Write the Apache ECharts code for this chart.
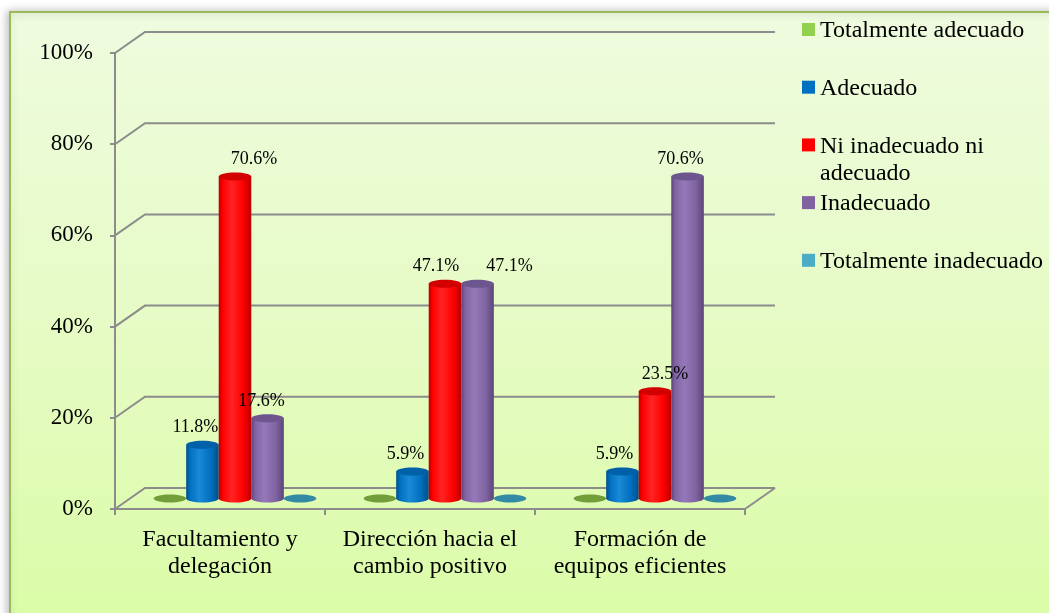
<!DOCTYPE html>
<html>
<head>
<meta charset="utf-8">
<script src="https://cdn.jsdelivr.net/npm/echarts@6/dist/echarts.min.js"></script>
<style>
  html, body { margin: 0; padding: 0; background: #ffffff; }
  #chart { width: 1049px; height: 613px; }
</style>
</head>
<body>
<div id="chart"></div>
<script>
// Categories (axis labels) and series values, in percent
const categories = ['Facultamiento y\ndelegación', 'Dirección hacia el\ncambio positivo', 'Formación de\nequipos eficientes'];
const seriesNames = ['Totalmente adecuado', 'Adecuado', 'Ni inadecuado ni\nadecuado', 'Inadecuado', 'Totalmente inadecuado'];
const totalmenteAdecuado = [0, 0, 0];
const adecuado = [11.8, 5.9, 5.9];
const niInadecuadoNiAdecuado = [70.6, 47.1, 23.5];
const inadecuado = [17.6, 47.1, 70.6];
const totalmenteInadecuado = [0, 0, 0];
const yTicks = [0, 20, 40, 60, 80, 100];

const seriesValues = [totalmenteAdecuado, adecuado, niInadecuadoNiAdecuado, inadecuado, totalmenteInadecuado];

// Colours and cylinder shading per series
const shades = [
  { base: '#92d050', edge: '#6f9c38', light: '#a8dc6c', top: '#7aa83f', flat: '#729e3a' },
  { base: '#0070c0', edge: '#004f8a', light: '#1a8ad6', top: '#0061a8', flat: '#0061a8' },
  { base: '#ff0000', edge: '#b80000', light: '#ff2424', top: '#d20000', flat: '#d20000' },
  { base: '#8064a2', edge: '#5a4578', light: '#9478b8', top: '#6d558d', flat: '#6d558d' },
  { base: '#4bacc6', edge: '#2f7f96', light: '#62bcd4', top: '#3a93ad', flat: '#338aa4' }
];

// Small horizontal nudges for the value labels (series x category), in px
const labelNudgeX = [
  [0, 0, 0],
  [-7, -7, -8],
  [19, -9, 10],
  [-6, 32, -7],
  [0, 0, 0]
];

// Perspective depth of the box
const DEPTH_X = 30;
const DEPTH_Y = 21;
const GRID_COLOR = '#8c8c8c';
const SERIF = '"Liberation Serif", "Times New Roman", serif';

function renderWalls(params, api) {
  const cs = params.coordSys;
  const x0 = cs.x;
  const x1 = cs.x + cs.width;
  const children = yTicks.map(function (t) {
    const y = api.coord([0, t])[1];
    return {
      type: 'polyline',
      shape: { points: [[x0, y], [x0 + DEPTH_X, y - DEPTH_Y], [x1 + DEPTH_X, y - DEPTH_Y]] },
      style: { stroke: GRID_COLOR, lineWidth: 2, fill: null }
    };
  });
  const y0 = api.coord([0, 0])[1];
  children.push({
    type: 'line',
    shape: { x1: x1, y1: y0, x2: x1 + DEPTH_X, y2: y0 - DEPTH_Y },
    style: { stroke: GRID_COLOR, lineWidth: 2 }
  });
  return { type: 'group', children: children };
}

// Position of a cylinder for series sIdx in the current data item
function cylinderGeom(sIdx, api) {
  const cat = api.value(0);
  const v = api.value(1);
  const band = api.size([1, 0])[0];
  const w = band * 0.155;
  const top = api.coord([cat, v]);
  const base = api.coord([cat, 0]);
  return {
    cat: cat,
    v: v,
    w: w,
    cx: top[0] + (sIdx - 2) * w + DEPTH_X / 2,
    topY: top[1] - DEPTH_Y / 2,
    baseY: base[1] - DEPTH_Y / 2
  };
}

function cylinderRenderer(sIdx) {
  return function (params, api) {
    const g = cylinderGeom(sIdx, api);
    const rx = g.w / 2;
    const ry = 4;
    const sh = shades[sIdx];
    const children = [];
    if (g.v > 0) {
      const body = new echarts.graphic.LinearGradient(0, 0, 1, 0, [
        { offset: 0, color: sh.edge },
        { offset: 0.12, color: sh.base },
        { offset: 0.4, color: sh.light },
        { offset: 0.75, color: sh.base },
        { offset: 1, color: sh.edge }
      ]);
      children.push({ type: 'rect', shape: { x: g.cx - rx, y: g.topY, width: g.w, height: g.baseY - g.topY }, style: { fill: body } });
      children.push({ type: 'ellipse', shape: { cx: g.cx, cy: g.baseY, rx: rx, ry: ry }, style: { fill: body } });
      children.push({ type: 'ellipse', shape: { cx: g.cx, cy: g.topY, rx: rx, ry: ry }, style: { fill: sh.top } });
    } else {
      children.push({ type: 'ellipse', shape: { cx: g.cx, cy: g.baseY, rx: rx, ry: ry }, style: { fill: sh.flat } });
    }
    return { type: 'group', children: children };
  };
}

function labelRenderer(sIdx) {
  return function (params, api) {
    const g = cylinderGeom(sIdx, api);
    if (!(g.v > 0)) return null;
    return {
      type: 'text',
      x: g.cx + labelNudgeX[sIdx][g.cat],
      y: g.topY - 17,
      style: {
        text: g.v.toFixed(1) + '%',
        font: '18px ' + SERIF,
        fill: '#000000',
        align: 'center',
        verticalAlign: 'middle'
      }
    };
  };
}

const series = [{
  type: 'custom',
  name: 'walls',
  renderItem: renderWalls,
  data: [[0, 0]],
  z: 1,
  silent: true
}];
seriesValues.forEach(function (vals, sIdx) {
  const data = vals.map(function (v, i) { return [i, v]; });
  series.push({
    type: 'custom',
    name: seriesNames[sIdx],
    renderItem: cylinderRenderer(sIdx),
    encode: { x: 0, y: 1 },
    data: data,
    z: 5 + sIdx
  });
  series.push({
    type: 'custom',
    name: seriesNames[sIdx] + ' (labels)',
    renderItem: labelRenderer(sIdx),
    encode: { x: 0, y: 1 },
    data: data,
    z: 20,
    silent: true
  });
});

// Legend drawn as colour squares with text on the right
const legendTop = 29.5;
const legendStep = 57.7;
const legendLine = 27;
const legendElements = [];
seriesNames.forEach(function (name, i) {
  const cy = legendTop + i * legendStep;
  legendElements.push({
    type: 'rect',
    shape: { x: 802, y: cy - 6.5, width: 13, height: 13 },
    style: { fill: shades[i].base }
  });
  legendElements.push({
    type: 'text',
    x: 820,
    y: cy - legendLine / 2 + 1.5,
    style: {
      text: name,
      font: '24px ' + SERIF,
      fill: '#000000',
      lineHeight: legendLine,
      verticalAlign: 'top'
    }
  });
});

const chart = echarts.init(document.getElementById('chart'), null, { renderer: 'canvas' });
chart.setOption({
  animation: false,
  backgroundColor: '#ffffff',
  textStyle: { fontFamily: SERIF },
  graphic: [{
    type: 'rect',
    z: -10,
    shape: { x: 10, y: 12, width: 1060, height: 620 },
    style: {
      fill: new echarts.graphic.LinearGradient(0, 0, 0, 1, [
        { offset: 0, color: '#effbdf' },
        { offset: 0.5, color: '#e6fbc5' },
        { offset: 1, color: '#dafca6' }
      ]),
      stroke: '#9bbb59',
      lineWidth: 2,
      shadowBlur: 8,
      shadowOffsetX: -2,
      shadowColor: 'rgba(0,0,0,0.25)'
    }
  }, {
    type: 'group',
    z: 100,
    children: legendElements
  }],
  grid: { left: 115, top: 53, width: 630, height: 456 },
  xAxis: {
    type: 'category',
    data: categories,
    boundaryGap: true,
    axisLine: { show: true, lineStyle: { color: GRID_COLOR, width: 2 } },
    axisTick: { show: true, interval: 0, length: 6, lineStyle: { color: GRID_COLOR, width: 2 } },
    axisLabel: {
      interval: 0,
      margin: 17,
      color: '#000000',
      fontFamily: SERIF,
      fontSize: 24,
      lineHeight: 27
    },
    splitLine: { show: false }
  },
  yAxis: {
    type: 'value',
    min: 0,
    max: 100,
    interval: 20,
    axisLine: { show: true, lineStyle: { color: GRID_COLOR, width: 2 } },
    axisTick: { show: true, length: 5, lineStyle: { color: GRID_COLOR, width: 2 } },
    axisLabel: {
      margin: 22,
      color: '#000000',
      fontFamily: SERIF,
      fontSize: 23,
      padding: [4, 0, 0, 0],
      formatter: '{value}%'
    },
    splitLine: { show: false }
  },
  series: series
});
</script>
</body>
</html>
